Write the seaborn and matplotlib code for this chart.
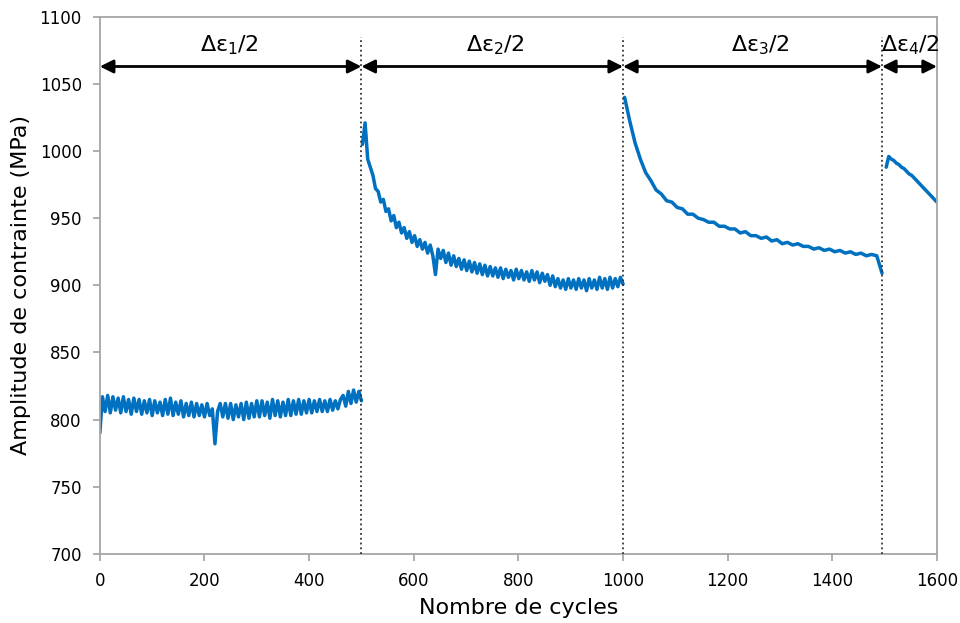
import matplotlib
matplotlib.use('Agg')
import matplotlib.pyplot as plt
import seaborn as sns
import pandas as pd
import numpy as np

# ========== Données ==========
# bloc 1 : 0 -> 500 cycles (pas de 5)
amp_1 = [790, 817, 806, 818, 805, 817, 807, 816, 805, 817,
         806, 815, 804, 816, 806, 815, 804, 814, 805, 815,
         803, 814, 805, 813, 803, 815, 804, 816, 803, 813,
         804, 814, 802, 812, 803, 813, 802, 812, 803, 811,
         802, 812, 803, 808, 782, 806, 812, 802, 812, 801,
         812, 800, 811, 802, 812, 800, 813, 801, 812, 802,
         814, 802, 814, 803, 813, 801, 815, 803, 814, 802,
         813, 803, 815, 803, 814, 804, 815, 804, 814, 805,
         815, 805, 814, 806, 815, 806, 814, 806, 815, 807,
         814, 808, 815, 818, 810, 821, 812, 822, 813, 821,
         814]
# bloc 2 : 502 -> 1000 cycles (pas de 5)
amp_2 = [1005, 1021, 994, 988, 982, 972, 970, 962, 964, 955,
         957, 948, 952, 943, 947, 939, 943, 935, 940, 932,
         937, 929, 934, 927, 932, 924, 930, 922, 908, 927,
         920, 926, 917, 924, 915, 922, 914, 920, 912, 919,
         911, 918, 910, 917, 909, 916, 908, 915, 907, 914,
         907, 913, 906, 913, 905, 912, 906, 911, 904, 912,
         905, 911, 904, 910, 903, 911, 904, 910, 902, 909,
         903, 908, 900, 907, 899, 905, 898, 904, 897, 905,
         898, 904, 897, 905, 898, 904, 896, 905, 898, 904,
         897, 906, 898, 905, 897, 906, 898, 905, 899, 906,
         901]
# bloc 3 : 1005 -> 1495 cycles (pas de 10)
amp_3 = [1040, 1022, 1006, 994, 984, 978, 971, 968, 963, 962,
         958, 957, 953, 953, 950, 949, 947, 947, 944, 944,
         942, 942, 939, 940, 937, 937, 935, 936, 933, 934,
         931, 932, 930, 931, 929, 929, 927, 928, 926, 927,
         925, 926, 924, 925, 923, 924, 922, 923, 922, 909]
# bloc 4 : 1503 -> 1600 cycles (pas de 5)
amp_4 = [988, 996, 994, 993, 991, 990, 988, 987, 985, 983, 982,
         980, 978, 976, 974, 972, 970, 968, 966, 964, 962]

bornes = [0, 500, 1000, 1495, 1600]
labels = ['Δε$_1$/2', 'Δε$_2$/2', 'Δε$_3$/2', 'Δε$_4$/2']

df = pd.concat([
    pd.DataFrame({'cycles': np.linspace(0, 500, len(amp_1)), 'amp': amp_1, 'bloc': 1}),
    pd.DataFrame({'cycles': np.linspace(502, 1000, len(amp_2)), 'amp': amp_2, 'bloc': 2}),
    pd.DataFrame({'cycles': np.linspace(1003, 1495, len(amp_3)), 'amp': amp_3, 'bloc': 3}),
    pd.DataFrame({'cycles': np.linspace(1503, 1600, len(amp_4)), 'amp': amp_4, 'bloc': 4}),
])

# ========== Figure ==========
sns.set_style('ticks')
plt.rcParams['font.family'] = ['DejaVu Sans']
plt.rcParams['text.color'] = 'black'
plt.rcParams['axes.labelcolor'] = 'black'
fig, ax = plt.subplots(figsize=(9.6, 6.23), dpi=100)
fig.subplots_adjust(left=0.104, right=0.976, top=0.973, bottom=0.111)

bleu = '#0070C0'
for b, d in df.groupby('bloc'):
    sns.lineplot(data=d, x='cycles', y='amp', color=bleu, lw=2.5, ax=ax,
                 estimator=None, sort=False)

# lignes pointillées de changement de niveau
ax.vlines(bornes[1:4], 700, 1085, colors='#333333', linestyles=':', lw=1.3, zorder=3)

# flèches + étiquettes
for i in range(4):
    x0, x1 = bornes[i], bornes[i + 1]
    ax.annotate('', xy=(x1, 1063), xytext=(x0, 1063),
                arrowprops=dict(arrowstyle='<|-|>', color='black', lw=2,
                                mutation_scale=20, shrinkA=0, shrinkB=0))
xs_lab = [248, 755, 1262, 1549]
for xl, lab in zip(xs_lab, labels):
    ax.text(xl, 1079, lab, ha='center', va='center', fontsize=16, color='black')

ax.set_xlim(0, 1600)
ax.set_ylim(700, 1100)
ax.set_xticks(range(0, 1601, 200))
ax.set_yticks(range(700, 1101, 50))
ax.set_xlabel('Nombre de cycles', fontsize=16, labelpad=6)
ax.set_ylabel('Amplitude de contrainte (MPa)', fontsize=16, labelpad=6)
ax.tick_params(axis='both', colors='#A0A0A0', labelcolor='black',
               labelsize=12, length=5, width=1.2, pad=8)
for s in ax.spines.values():
    s.set_color('#A6A6A6')
    s.set_linewidth(1.3)

plt.savefig('out.png', dpi=100)
